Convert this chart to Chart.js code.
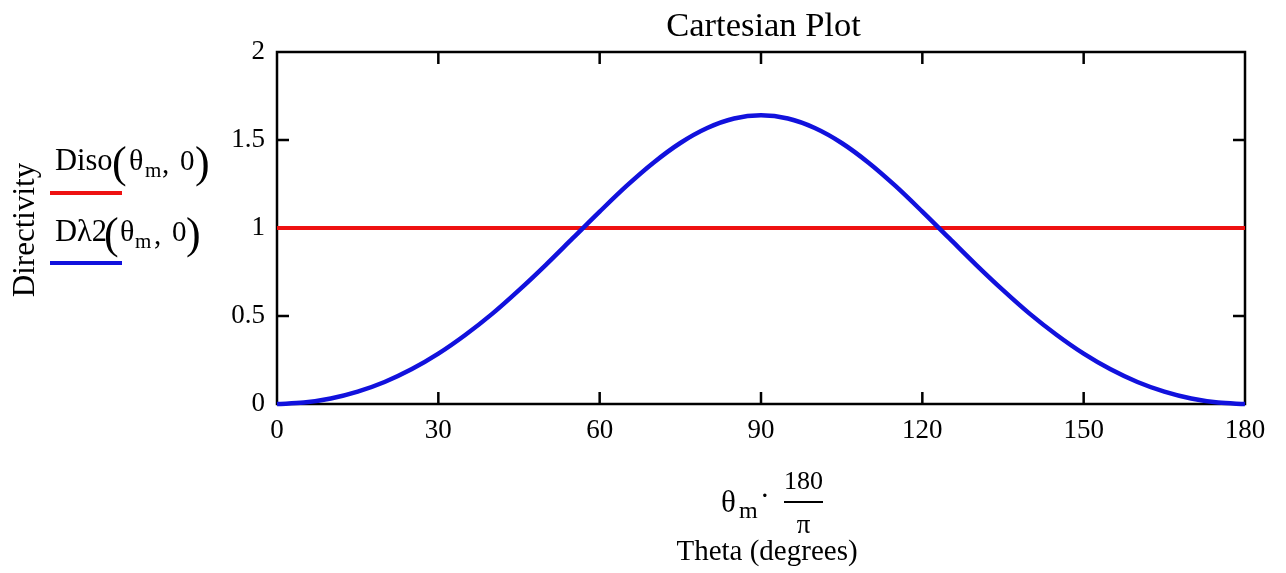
<!DOCTYPE html>
<html>
<head>
<meta charset="utf-8">
<script src="https://cdn.jsdelivr.net/npm/chart.js@4/dist/chart.umd.min.js"></script>
<style>
html,body{margin:0;padding:0;background:#fff;}
#wrap{width:1286px;height:573px;position:relative;}
</style>
</head>
<body>
<div id="wrap"><canvas id="c" width="1286" height="573"></canvas></div>
<script>
// Data
const thetaDeg = [0,5,10,15,20,25,30,35,40,45,50,55,60,65,70,75,80,85,90,95,100,105,110,115,120,125,130,135,140,145,150,155,160,165,170,175,180];
const dLambda2 = [0,0.008,0.031,0.070,0.125,0.197,0.286,0.392,0.512,0.647,0.791,0.942,1.093,1.239,1.371,1.483,1.568,1.622,1.640,1.622,1.568,1.483,1.371,1.239,1.093,0.942,0.791,0.647,0.512,0.392,0.286,0.197,0.125,0.070,0.031,0.008,0];
const isoTheta = [0,180];
const dIso = [1,1];
const xTicks = [0,30,60,90,120,150,180];
const yTicks = [0,0.5,1,1.5,2];

const SERIF = '"Liberation Serif","Times New Roman",serif';
const f = (s)=> s + 'px ' + SERIF;

const blueData = thetaDeg.map((t,i)=>({x:t,y:dLambda2[i]}));
const redData = isoTheta.map((t,i)=>({x:t,y:dIso[i]}));

function drawSegs(ctx, segs){
  for(const s of segs){
    ctx.font = f(s.size);
    ctx.textAlign = s.align || 'left';
    ctx.textBaseline = 'alphabetic';
    ctx.fillText(s.t, s.x, s.y);
  }
}

const framePlugin = {
  id:'framePlugin',
  beforeDatasetsDraw(chart){
    const {ctx, chartArea:a, scales} = chart;
    ctx.save();
    ctx.strokeStyle = '#000';
    ctx.lineWidth = 2.5;
    ctx.strokeRect(a.left, a.top, a.right-a.left, a.bottom-a.top);
    const L = 12;
    ctx.beginPath();
    for(const v of xTicks){
      if(v===xTicks[0]||v===xTicks[xTicks.length-1]) continue;
      const px = scales.x.getPixelForValue(v);
      ctx.moveTo(px, a.top); ctx.lineTo(px, a.top+L);
      ctx.moveTo(px, a.bottom); ctx.lineTo(px, a.bottom-L);
    }
    for(const v of yTicks){
      if(v===yTicks[0]||v===yTicks[yTicks.length-1]) continue;
      const py = scales.y.getPixelForValue(v);
      ctx.moveTo(a.left, py); ctx.lineTo(a.left+L, py);
      ctx.moveTo(a.right, py); ctx.lineTo(a.right-L, py);
    }
    ctx.stroke();
    ctx.restore();
  },
  afterDraw(chart){
    const {ctx, chartArea:a} = chart;
    ctx.save();
    ctx.fillStyle = '#000';
    // title
    ctx.font = f(34.5);
    ctx.textAlign = 'center';
    ctx.textBaseline = 'alphabetic';
    ctx.fillText('Cartesian Plot', 763.5, 36);
    // y title
    ctx.save();
    ctx.translate(26, 230);
    ctx.rotate(-Math.PI/2);
    ctx.font = f(31);
    ctx.textAlign = 'center';
    ctx.textBaseline = 'middle';
    ctx.fillText('Directivity', 0, 0);
    ctx.restore();
    // legend entry 1
    drawSegs(ctx, [
      {t:'Diso', size:30.5, x:55, y:170},
      {t:'(', size:44, x:112, y:177},
      {t:'θ', size:30, x:129, y:170},
      {t:'m', size:21, x:145, y:177},
      {t:',', size:29, x:162, y:173},
      {t:'0', size:29, x:180, y:170},
      {t:')', size:44, x:195, y:177}
    ]);
    // legend entry 2
    drawSegs(ctx, [
      {t:'Dλ2', size:30.5, x:55, y:241},
      {t:'(', size:44, x:104, y:248},
      {t:'θ', size:30, x:120, y:241},
      {t:'m', size:21, x:135, y:248},
      {t:',', size:29, x:154, y:244},
      {t:'0', size:29, x:172, y:241},
      {t:')', size:44, x:186, y:248}
    ]);
    ctx.lineWidth = 4;
    ctx.strokeStyle = '#ee1111';
    ctx.beginPath(); ctx.moveTo(50,193); ctx.lineTo(122,193); ctx.stroke();
    ctx.strokeStyle = '#1111dd';
    ctx.beginPath(); ctx.moveTo(50,263); ctx.lineTo(122,263); ctx.stroke();
    // x title
    drawSegs(ctx, [
      {t:'θ', size:31, x:721, y:512},
      {t:'m', size:24, x:739, y:518},
      {t:'·', size:29, x:760, y:505},
      {t:'180', size:26, x:803.5, y:489, align:'center'},
      {t:'π', size:27, x:803.5, y:533, align:'center'},
      {t:'Theta (degrees)', size:29, x:767, y:560, align:'center'}
    ]);
    ctx.lineWidth = 2;
    ctx.strokeStyle = '#000';
    ctx.beginPath(); ctx.moveTo(784,502); ctx.lineTo(823,502); ctx.stroke();
    ctx.restore();
  }
};

new Chart(document.getElementById('c'), {
  type:'line',
  data:{
    datasets:[
      {label:'Diso(θm,0)', data:redData, borderColor:'#ee1111', borderWidth:4, pointRadius:0, clip:false, order:2},
      {label:'Dλ2(θm,0)', data:blueData, borderColor:'#1111dd', borderWidth:4.5, pointRadius:0, cubicInterpolationMode:'monotone', clip:false, order:1}
    ]
  },
  options:{
    responsive:false,
    devicePixelRatio:1,
    animation:false,
    layout:{padding:{top:52,right:41,left:0,bottom:0}},
    plugins:{legend:{display:false}, title:{display:false}, tooltip:{enabled:false}},
    scales:{
      x:{
        type:'linear', min:0, max:180,
        afterBuildTicks:(s)=>{ s.ticks = xTicks.map(v=>({value:v})); },
        afterFit:(s)=>{ s.height = 169; },
        grid:{display:false, drawTicks:false},
        border:{display:false},
        ticks:{color:'#000', font:{family:SERIF, size:27}, padding:11, maxRotation:0, autoSkip:false}
      },
      y:{
        type:'linear', min:0, max:2,
        afterBuildTicks:(s)=>{ s.ticks = yTicks.map(v=>({value:v})); },
        afterFit:(s)=>{ s.width = 277; },
        grid:{display:false, drawTicks:false},
        border:{display:false},
        ticks:{color:'#000', font:{family:SERIF, size:27}, padding:12, autoSkip:false,
          callback:(v)=>String(v)}
      }
    }
  },
  plugins:[framePlugin]
});
</script>
</body>
</html>
